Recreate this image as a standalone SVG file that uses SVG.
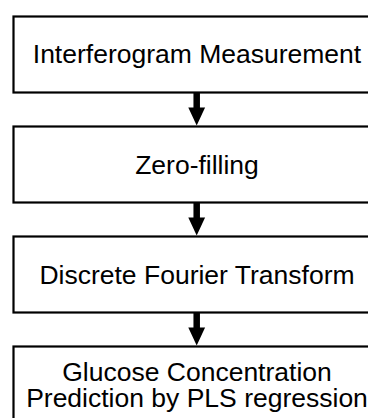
<svg xmlns="http://www.w3.org/2000/svg" width="368" height="418" viewBox="0 0 368 418">
<style>
.box{fill:#fff;stroke:#000;stroke-width:2.2}
.lbl{font-family:"Liberation Sans",Arial,sans-serif;font-size:26.5px;fill:#000;text-anchor:middle}
.shaft{stroke:#000;stroke-width:6.5}
.head{fill:#000}
</style>
<rect width="368" height="418" fill="#fff"/>
<g id="connectors">
<line class="shaft" x1="196.7" y1="93" x2="196.7" y2="109"/>
<polygon class="head" points="188.3,107.5 205.1,107.5 196.7,125.5"/>
<line class="shaft" x1="196.7" y1="203" x2="196.7" y2="219"/>
<polygon class="head" points="188.3,217.5 205.1,217.5 196.7,235.5"/>
<line class="shaft" x1="196.7" y1="313" x2="196.7" y2="329"/>
<polygon class="head" points="188.3,327.5 205.1,327.5 196.7,345.5"/>
</g>
<g id="n1">
<rect class="box" x="13.5" y="16.5" width="367" height="76"/>
<text class="lbl" x="197" y="63.3">Interferogram Measurement</text>
</g>
<g id="n2">
<rect class="box" x="13.5" y="126.5" width="367" height="76"/>
<text class="lbl" x="197" y="173.5">Zero-filling</text>
</g>
<g id="n3">
<rect class="box" x="13.5" y="236.5" width="367" height="76"/>
<text class="lbl" x="197" y="283.5">Discrete Fourier Transform</text>
</g>
<g id="n4">
<rect class="box" x="13.5" y="346.5" width="367" height="76"/>
<text class="lbl" x="197" y="381">Glucose Concentration</text>
<text class="lbl" x="197" y="407">Prediction by PLS regression</text>
</g>
</svg>
